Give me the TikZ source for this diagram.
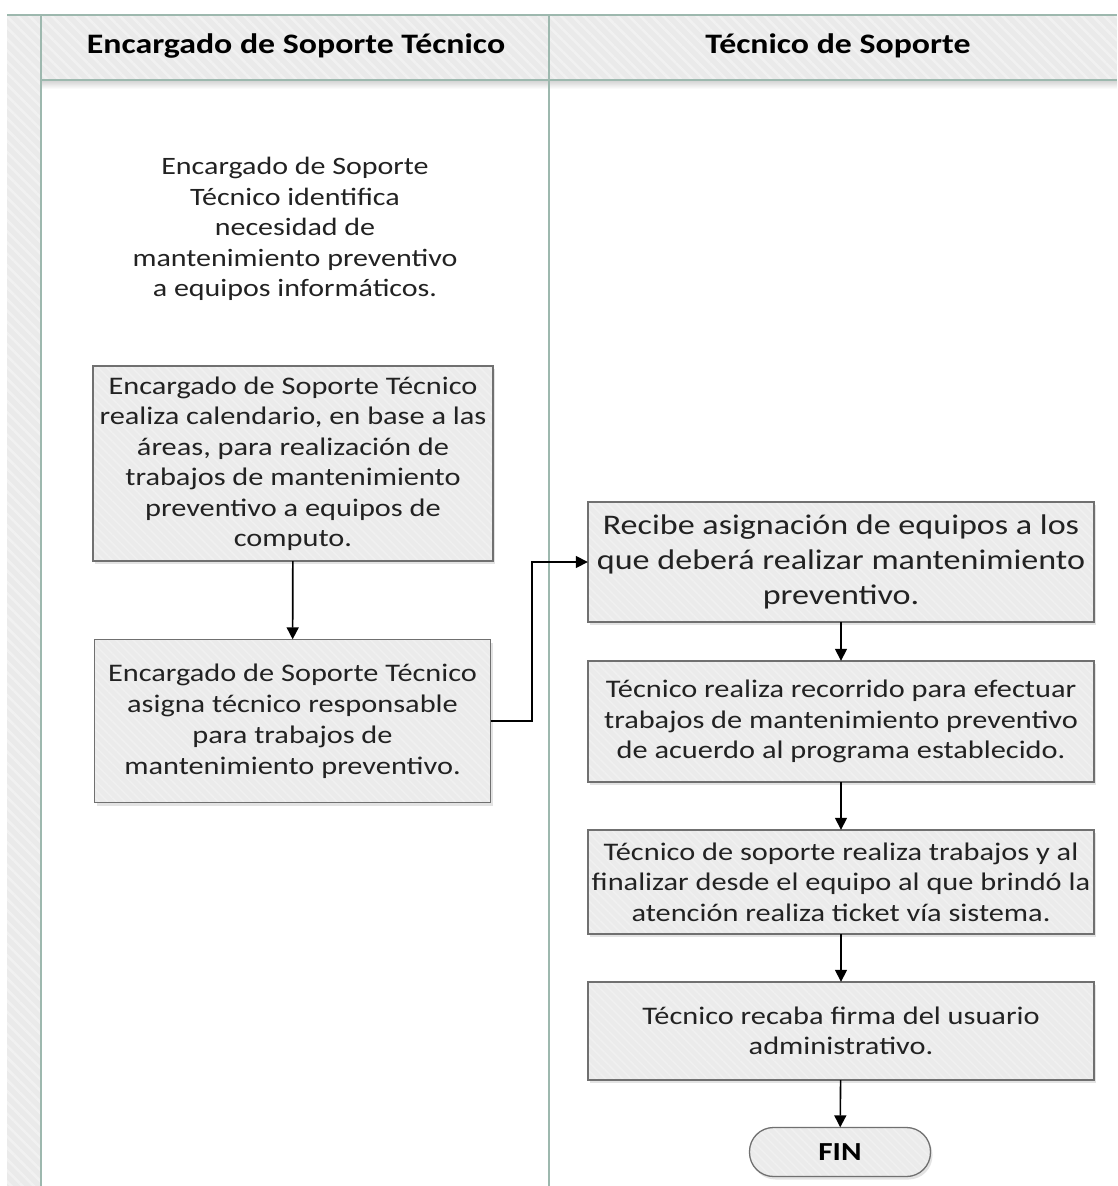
\documentclass[tikz,border=0pt]{standalone}
\usepackage{fontspec}
\setmainfont[FakeStretch=1.2]{Carlito}
\usetikzlibrary{arrows.meta,patterns.meta,shadows}
\definecolor{bandgray}{HTML}{EAEAEA}
\definecolor{stripe}{HTML}{F1F1F1}
\definecolor{lanecol}{HTML}{9DB8AE}
\definecolor{boxfill}{HTML}{EBEBEB}
\definecolor{boxstripe}{HTML}{F0F0F0}
\definecolor{boxline}{HTML}{707070}
\definecolor{txt}{HTML}{222222}
\tikzset{
  hatch/.style={fill=bandgray, postaction={pattern={Lines[angle=-45,distance=8pt,line width=2.5pt]}, pattern color=stripe}},
  procbox/.style={fill=boxfill, align=center, text=txt, inner sep=0pt,
    drop shadow={shadow xshift=2pt, shadow yshift=-3pt, opacity=0.22},
    postaction={pattern={Lines[angle=-45,distance=6pt,line width=1.5pt]}, pattern color=boxstripe},
    postaction={draw=boxline, line width=1.3pt}},
  lanehead/.style={font=\fontsize{28.2}{30}\selectfont\bfseries, text=black},
  body/.style={font=\fontsize{25.3}{30.5}\selectfont},
  arr/.style={line width=1.6pt, -{Triangle[length=12pt,width=12pt]}},
  laneline/.style={draw=lanecol, line width=2pt}
}
\begin{document}
\begin{tikzpicture}[x=1pt,y=-1pt]
\useasboundingbox (0,0) rectangle (1117,1186);
\fill[white] (0,0) rectangle (1117,1186);
% left strip and header band
\path[hatch] (7,15) rectangle (41,1186);
\path[hatch] (41,15) rectangle (1117,80);
\shade[top color=black!16, bottom color=white] (41,81) rectangle (1117,89);
\draw[laneline] (7,15) -- (1117,15);
\draw[laneline] (41,80) -- (1117,80);
\draw[laneline] (41,15) -- (41,1186);
\draw[laneline] (549,15) -- (549,1186);
% headers
\node[lanehead] (h1) at (296,46) {Encargado de Soporte Técnico};
\node[lanehead] (h2) at (838,46) {Técnico de Soporte};
% start text
\node[align=center, text=txt, font=\fontsize{25}{30.5}\selectfont] (t0) at (295,229)
 {Encargado de Soporte\\Técnico identifica\\necesidad de\\mantenimiento preventivo\\a equipos informáticos.};
% left boxes
\node[procbox, body, minimum width=400pt, minimum height=195pt] (b1) at (293,463.5)
 {Encargado de Soporte Técnico\\realiza calendario, en base a las\\áreas, para realización de\\trabajos de mantenimiento\\preventivo a equipos de\\computo.};
\node[procbox, font=\fontsize{25.3}{31}\selectfont, minimum width=396pt, minimum height=163pt] (b2) at (292.5,721)
 {Encargado de Soporte Técnico\\asigna técnico responsable\\para trabajos de\\mantenimiento preventivo.};
% right boxes
\node[procbox, font=\fontsize{28.4}{35}\selectfont, minimum width=506pt, minimum height=120pt] (r1) at (841,562)
 {Recibe asignación de equipos a los\\que deberá realizar mantenimiento\\preventivo.};
\node[procbox, body, minimum width=506pt, minimum height=121pt] (r2) at (841,721.5)
 {Técnico realiza recorrido para efectuar\\trabajos de mantenimiento preventivo\\de acuerdo al programa establecido.};
\node[procbox, body, minimum width=506pt, minimum height=104pt] (r3) at (841,882)
 {Técnico de soporte realiza trabajos y al\\finalizar desde el equipo al que brindó la\\atención realiza ticket vía sistema.};
\node[procbox, body, minimum width=506pt, minimum height=98pt] (r4) at (841,1031)
 {Técnico recaba firma del usuario\\administrativo.};
\node[procbox, rounded corners=24pt, minimum width=181pt, minimum height=49pt, font=\fontsize{26}{28}\selectfont\bfseries, text=black] (fin) at (840,1152) {FIN};
% connectors
\draw[arr] (b1) -- (b2);
\draw[arr] (b2.east) -- ++(41,0) |- (r1.west);
\draw[arr] (r1) -- (r2);
\draw[arr] (r2) -- (r3);
\draw[arr] (r3) -- (r4);
\draw[arr] (r4) -- (fin);
\end{tikzpicture}
\end{document}
